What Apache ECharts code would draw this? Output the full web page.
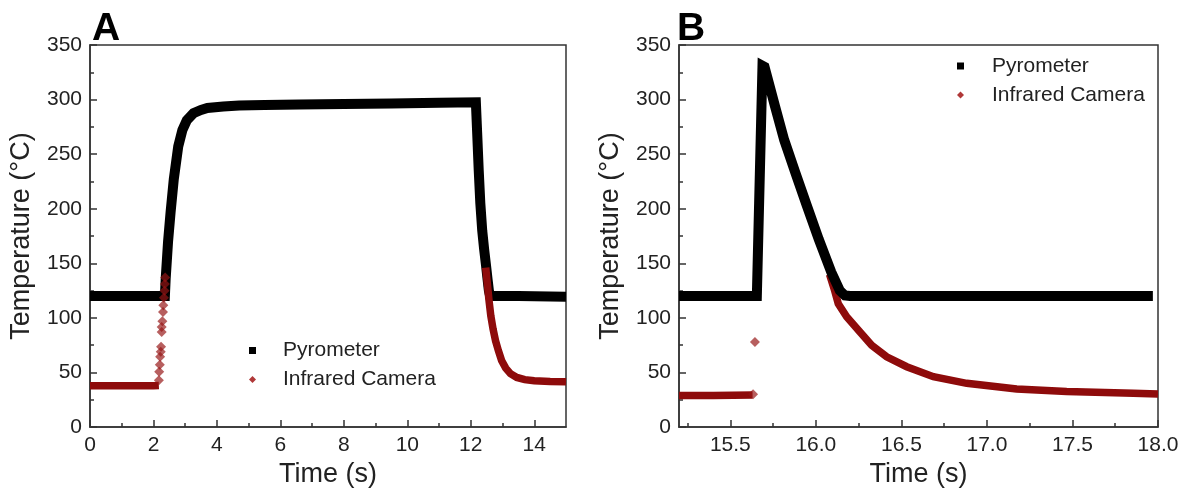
<!DOCTYPE html>
<html>
<head>
<meta charset="utf-8">
<script src="https://cdn.jsdelivr.net/npm/echarts@6/dist/echarts.min.js"></script>
<style>html,body{margin:0;padding:0;background:#fff}#c{width:1183px;height:493px}</style>
</head>
<body>
<div id="c"></div>
<script>
// ---------- Panel A data (time s, temperature °C) ----------
const pyroA = [
  [0,120],[1,120],[2,120],[2.36,120],[2.385,136],[2.46,170],[2.54,197],[2.64,227],[2.78,257],
  [2.91,272],[3.05,281],[3.26,287.5],[3.5,290.5],[3.7,292.3],[4.2,293.6],[4.7,294.5],[5.5,295],
  [6.6,295.5],[8.0,296],[9.5,296.5],[11,297],[12.16,297.5],[12.2,270],[12.25,235],[12.3,205],
  [12.36,180],[12.42,163],[12.48,148],[12.53,135],[12.57,125],[12.61,120],[13.5,120],[15,119.5]
];
const irFlatA = [[0,37.8],[0.5,37.8],[1,37.8],[1.5,37.8],[2,37.8],[2.17,38]];
const irRiseA = [
  [2.17,43],[2.18,50.7],[2.2,57],[2.21,64.4],[2.23,69],[2.24,73.5],[2.26,87.2],[2.26,91.8],
  [2.28,96.9],[2.3,105.4],[2.31,111.5],[2.33,118.5],[2.35,125],[2.36,131],[2.37,137]
];
const irDecayA = [
  [12.47,146],[12.52,132],[12.57,117],[12.63,102],[12.7,90],[12.78,79],[12.87,70],[12.97,61],
  [13.1,54],[13.25,49],[13.45,45.5],[13.7,43.5],[14.0,42.5],[14.5,41.8],[15.0,41.5]
];
// ---------- Panel B data ----------
const pyroB = [
  [15.2,120],[15.4,120],[15.655,120],[15.688,331],[15.70,330],[15.761,294],[15.815,263],
  [15.88,233],[15.947,203],[16.017,172],[16.09,142],[16.14,125],[16.17,120.5],[16.2,120],
  [17.0,120],[17.97,120]
];
const irFlatB = [[15.2,29],[15.4,29],[15.63,29.5]];
const irPointsB = [[15.633,30],[15.644,78]];
const irDecayB = [
  [16.08,140],[16.11,125],[16.131,113],[16.18,101],[16.258,87.2],[16.326,75],[16.414,64.4],
  [16.531,55.3],[16.687,46.2],[16.882,40.1],[17.174,34.9],[17.466,32.5],[17.856,31],[18.0,30.4]
];
// ---------- Tick values ----------
const xTicksA = [0,2,4,6,8,10,12,14];
const xMinorA = [1,3,5,7,9,11,13];
const xTicksB = [15.5,16.0,16.5,17.0,17.5,18.0];
const xMinorB = [15.25,15.75,16.25,16.75,17.25,17.75];
const seriesNames = ['Pyrometer','Infrared Camera'];

const FONT = '"Liberation Sans", Arial, Helvetica, sans-serif';
const AX = '#333';
const TXT = '#222';
const BLACK = '#000';
const RED_LINE = '#8e0b0b';
const RED_PT = 'rgba(150,20,20,0.85)';
const RED_LEG = '#b03838';

function xMain(gi, min, max, ticks, fmt) {
  return {
    type:'value', gridIndex:gi, min:min, max:max, position:'bottom',
    name:'Time (s)', nameLocation:'middle', nameGap:33,
    nameTextStyle:{fontSize:27, color:TXT, fontFamily:FONT},
    axisLine:{show:true, onZero:false, lineStyle:{color:AX, width:1.5}},
    axisTick:{show:true, inside:true, length:7, customValues:ticks, lineStyle:{color:AX, width:1.5}},
    axisLabel:{show:true, customValues:ticks, formatter:fmt, fontSize:21, color:TXT, margin:8, fontFamily:FONT},
    splitLine:{show:false}, minorTick:{show:false}
  };
}
function xMinor(gi, min, max, ticks) {
  return {
    type:'value', gridIndex:gi, min:min, max:max, position:'bottom',
    axisLine:{show:false}, axisLabel:{show:false},
    axisTick:{show:true, inside:true, length:4, customValues:ticks, lineStyle:{color:AX, width:1.5}},
    splitLine:{show:false}
  };
}
function yAx(gi) {
  return {
    type:'value', gridIndex:gi, min:0, max:350, interval:50,
    name:'Temperature (°C)', nameLocation:'middle', nameGap:55,
    nameTextStyle:{fontSize:27, color:TXT, fontFamily:FONT},
    axisLine:{show:true, onZero:false, lineStyle:{color:AX, width:1.5}},
    axisTick:{show:true, inside:true, length:7, lineStyle:{color:AX, width:1.5}},
    minorTick:{show:true, splitNumber:2, length:4, lineStyle:{color:AX, width:1.5}},
    axisLabel:{fontSize:21, color:TXT, margin:8, fontFamily:FONT},
    splitLine:{show:false}, minorSplitLine:{show:false}
  };
}
function lineS(name, data, xi, yi, color, width, z) {
  return {
    type:'line', name:name, data:data, xAxisIndex:xi, yAxisIndex:yi,
    showSymbol:false, symbol:'none', clip:true, silent:true, z:z,
    lineStyle:{color:color, width:width, join:'miter', miterLimit:2, cap:'butt'},
    itemStyle:{color:color}, animation:false
  };
}
function scatS(name, data, xi, yi, z) {
  return {
    type:'scatter', name:name, data:data, xAxisIndex:xi, yAxisIndex:yi,
    symbol:'diamond', symbolSize:10, clip:true, silent:true, z:z,
    itemStyle:{color:RED_PT}, animation:false
  };
}
function legendAt(left, top, pad) {
  return {
    orient:'vertical', left:left, top:top, padding:0, itemWidth:7, itemHeight:7, itemGap:8,
    selectedMode:false,
    textStyle:{fontSize:21, lineHeight:19, color:TXT, fontFamily:FONT, padding:[0,0,0,pad]},
    data:[
      {name:seriesNames[0], icon:'rect', itemStyle:{color:BLACK}},
      {name:seriesNames[1], icon:'diamond', itemStyle:{color:RED_LEG}}
    ]
  };
}

const chart = echarts.init(document.getElementById('c'), null, {renderer:'canvas'});
chart.setOption({
  animation:false,
  backgroundColor:'#fff',
  title:[
    {text:'A', left:92, top:10, padding:0, textStyle:{fontSize:39, fontWeight:'bold', color:'#000', fontFamily:FONT}},
    {text:'B', left:677, top:10, padding:0, textStyle:{fontSize:39, fontWeight:'bold', color:'#000', fontFamily:FONT}}
  ],
  legend:[legendAt(249, 340, 22), legendAt(957, 55.5, 23)],
  grid:[
    {left:90, top:45, width:476, height:384, show:true, borderColor:AX, borderWidth:1.5, backgroundColor:'transparent'},
    {left:679, top:45, width:479, height:384, show:true, borderColor:AX, borderWidth:1.5, backgroundColor:'transparent'}
  ],
  xAxis:[
    xMain(0, 0, 15, xTicksA, function(v){return String(v);}),
    xMinor(0, 0, 15, xMinorA),
    xMain(1, 15.2, 18.0, xTicksB, function(v){return Number(v).toFixed(1);}),
    xMinor(1, 15.2, 18.0, xMinorB)
  ],
  yAxis:[yAx(0), yAx(1)],
  series:[
    lineS(seriesNames[0], pyroA, 0, 0, BLACK, 10, 2),
    lineS(seriesNames[1], irFlatA, 0, 0, RED_LINE, 7.5, 3),
    scatS(seriesNames[1], irRiseA, 0, 0, 4),
    lineS(seriesNames[1], irDecayA, 0, 0, RED_LINE, 7.5, 3),
    lineS(seriesNames[1], irFlatB, 2, 1, RED_LINE, 7.5, 1),
    scatS(seriesNames[1], irPointsB, 2, 1, 1),
    lineS(seriesNames[1], irDecayB, 2, 1, RED_LINE, 7.5, 1),
    lineS(seriesNames[0], pyroB, 2, 1, BLACK, 10, 2)
  ]
});
</script>
</body>
</html>
